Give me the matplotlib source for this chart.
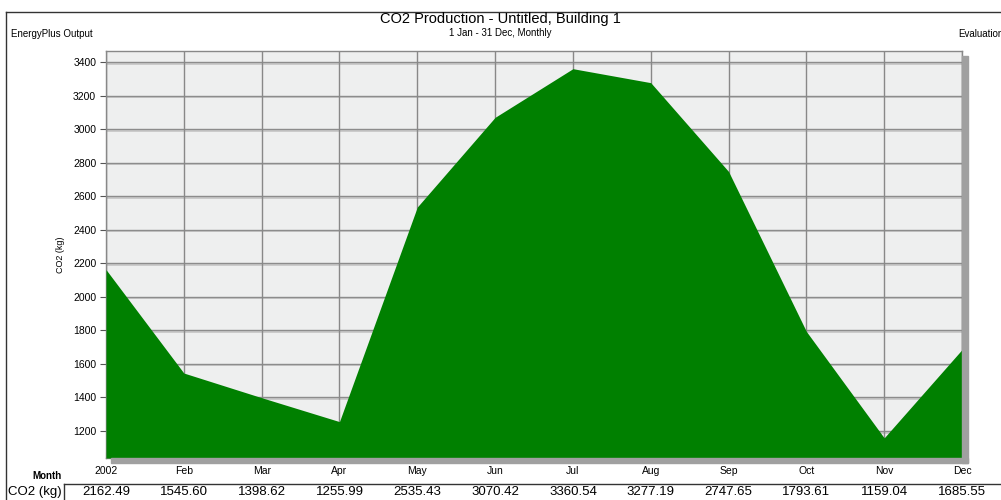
import matplotlib.pyplot as plt
from matplotlib.patches import Rectangle
from matplotlib.lines import Line2D
from matplotlib.transforms import ScaledTranslation
import numpy as np

plt.rcParams['font.family'] = ['Liberation Sans', 'DejaVu Sans']

# monthly CO2 production
months = ['2002', 'Feb', 'Mar', 'Apr', 'May', 'Jun', 'Jul', 'Aug', 'Sep', 'Oct', 'Nov', 'Dec']
co2 = [2162.49, 1545.60, 1398.62, 1255.99, 2535.43, 3070.42, 3360.54, 3277.19, 2747.65, 1793.61, 1159.04, 1685.55]
yticks = [1200, 1400, 1600, 1800, 2000, 2200, 2400, 2600, 2800, 3000, 3200, 3400]

W, H = 1001, 500
fig = plt.figure(figsize=(W / 100, H / 100), dpi=100)

def fx(px):
    return px / W

def fy(py):
    return 1 - py / H

# plot area in pixels
L, T, R, B = 106, 51, 962, 458
ax = fig.add_axes([fx(L), fy(B), fx(R) - fx(L), fy(T) - fy(B)])
ax.set_facecolor('#eeefef')

x = np.arange(len(co2))
ymin, ymax = 1039, 3466
ax.fill_between(x, co2, ymin, color='#008000', zorder=3, linewidth=0)
ax.set_xlim(0, len(co2) - 1)
ax.set_ylim(ymin, ymax)

ax.set_yticks(yticks)
ax.set_yticklabels([str(v) for v in yticks], fontsize=7.5)
ax.set_xticks(x)
ax.set_xticklabels(months, fontsize=7.5)
ax.tick_params(axis='y', length=4, width=0.8, color='#555555', pad=3)
ax.tick_params(axis='x', length=4, width=0.8, color='#888888', pad=6, direction='in')
ax.grid(True, axis='x', color='#888888', linewidth=1.0, zorder=1)
# horizontal grid with a light line under it
shift = ScaledTranslation(0, -1.5 / 100, fig.dpi_scale_trans)
for v in yticks:
    ax.plot([0, 1], [v, v], color='#c4c4c4', linewidth=1.2, zorder=0.9,
            transform=ax.get_yaxis_transform() + shift)
    ax.axhline(v, color='#8c8c8c', linewidth=1.0, zorder=1)
for s in ax.spines.values():
    s.set_color('#888888')
    s.set_linewidth(1.0)
ax.set_ylabel('CO2 (kg)', fontsize=6.5, labelpad=6)

# shadow to the right and below the plot
fig.patches.append(Rectangle((fx(R), fy(B + 5)), fx(6), fy(T + 5) - fy(B + 5),
                             transform=fig.transFigure, color='#a0a0a0', zorder=0))
fig.patches.append(Rectangle((fx(L + 5), fy(B + 5)), fx(R + 6) - fx(L + 5), fy(B) - fy(B + 5),
                             transform=fig.transFigure, color='#a0a0a0', zorder=0))

# outer frame
fig.add_artist(Line2D([fx(6), fx(W)], [fy(12), fy(12)], color='#333333', lw=1))
fig.add_artist(Line2D([fx(6), fx(6)], [fy(12), 0], color='#333333', lw=1))

# titles
fig.text(0.5, fy(19), 'CO2 Production - Untitled, Building 1', ha='center', va='center', fontsize=10.5)
fig.text(0.5, fy(33), '1 Jan - 31 Dec, Monthly', ha='center', va='center', fontsize=7)
fig.text(fx(11), fy(34), 'EnergyPlus Output', ha='left', va='center', fontsize=7)
fig.text(fx(958), fy(34), 'Evaluation', ha='left', va='center', fontsize=7)

# data table below the chart
fig.text(fx(47), fy(476), 'Month', ha='center', va='center', fontsize=7, fontweight='bold')
fig.text(fx(8), fy(492), 'CO2 (kg)', ha='left', va='center', fontsize=9.5)
fig.add_artist(Line2D([fx(64), fx(W)], [fy(484), fy(484)], color='#333333', lw=1))
fig.add_artist(Line2D([fx(64), fx(64)], [fy(484), 0], color='#333333', lw=1))
for i, v in enumerate(co2):
    xp = L + (R - L) * i / (len(co2) - 1)
    fig.text(fx(xp), fy(492), f'{v:.2f}', ha='center', va='center', fontsize=9.5)

fig.savefig('out.png', dpi=100)
